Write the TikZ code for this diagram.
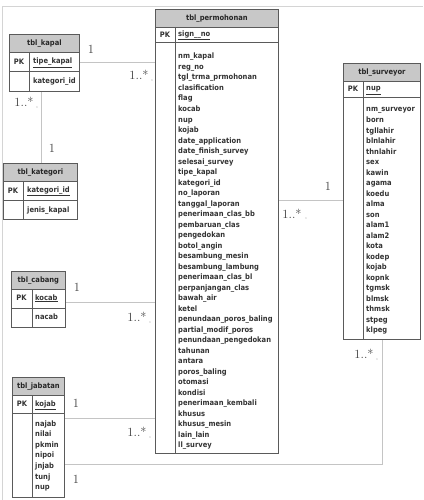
\documentclass[tikz,border=0pt]{standalone}
\usepackage{fontspec}
\setsansfont{DejaVu Sans}
\newfontfamily\fldfont{DejaVu Sans Condensed}
\begin{document}
\begin{tikzpicture}[x=1pt,y=-1pt,
  hdr/.style={draw=boxline,fill=hdrfill,line width=0.8pt,anchor=north west,inner sep=0pt,font=\fldfont\bfseries\fontsize{7.5}{8}\selectfont,text=black!85},
  cell/.style={draw=boxline,fill=white,line width=0.8pt,anchor=north west,inner sep=0pt},
  fld/.style={anchor=west,inner sep=0pt,text height=5.6pt,text depth=1.6pt,font=\fldfont\bfseries\fontsize{7.5}{8}\selectfont,text=black!80},
  pkl/.style={inner sep=0pt,font=\fldfont\bfseries\fontsize{7.5}{8}\selectfont,text=black!80},
  link/.style={draw=linkgray,line width=0.8pt},
  mult/.style={inner sep=0pt,font=\fontsize{12.5}{13}\selectfont,text=black!75},
  tiny/.style={inner sep=0pt,font=\sffamily\fontsize{3}{3}\selectfont,text=black!30}
]
\definecolor{boxline}{HTML}{5A5A5A}
\definecolor{hdrfill}{HTML}{C8C8C8}
\definecolor{linkgray}{HTML}{C4C4C4}
\definecolor{framegray}{HTML}{D4D4D4}
\useasboundingbox (0,0) rectangle (423,500);
\fill[white] (0,0) rectangle (423,500);
% frame
\coordinate (fTL) at (2,7);
\coordinate (fTR) at (423,7);
\coordinate (fBL) at (2,500);
\draw[framegray,line width=1pt] (fBL) -- (fTL) -- (fTR);

% ---------- connectors ----------
\coordinate (kapalE) at (79,62);
\coordinate (permW1) at (155,62);
\coordinate (kapalS) at (41,91);
\coordinate (kategN) at (41,163);
\coordinate (cabE) at (65,302);
\coordinate (permW2) at (155,302);
\coordinate (jabE1) at (64,418);
\coordinate (permW3) at (155,418);
\coordinate (permE) at (278,200);
\coordinate (survW) at (343,200);
\coordinate (survS) at (382,339);
\coordinate (bend) at (382,464);
\coordinate (jabE2) at (64,464);
\draw[link] (kapalE) -- (permW1);
\draw[link] (kapalS) -- (kategN);
\draw[link] (cabE) -- (permW2);
\draw[link] (jabE1) -- (permW3);
\draw[link] (permE) -- (survW);
\draw[link] (survS) -- (bend) -- (jabE2);

% ---------- tbl_kapal ----------
\node[hdr,minimum width=70pt,minimum height=18pt] (kapalH) at (9,34) {tbl\_kapal};
\node[cell,minimum width=70pt,minimum height=19pt] (kapalPK) at (9,52) {};
\node[cell,minimum width=70pt,minimum height=20pt] (kapalF) at (9,71) {};
\draw[boxline,line width=0.8pt] (29,52) -- (29,91);
\node[pkl] (kapalPKt) at (19,62) {PK};
\node[fld] (kapalK) at (33,62) {\underline{tipe\_kapal}};
\node[fld] (kapalF1) at (33,81.5) {kategori\_id};

% ---------- tbl_kategori ----------
\node[hdr,minimum width=74pt,minimum height=18pt] (katH) at (3,163) {tbl\_kategori};
\node[cell,minimum width=74pt,minimum height=19pt] (katPK) at (3,181) {};
\node[cell,minimum width=74pt,minimum height=19pt] (katF) at (3,200) {};
\draw[boxline,line width=0.8pt] (23,181) -- (23,219);
\node[pkl] (katPKt) at (13,190.5) {PK};
\node[fld] (katK) at (27,190.5) {\underline{kategori\_id}};
\node[fld] (katF1) at (27,210) {jenis\_kapal};

% ---------- tbl_cabang ----------
\node[hdr,minimum width=54pt,minimum height=18pt] (cabH) at (11,271) {tbl\_cabang};
\node[cell,minimum width=54pt,minimum height=19pt] (cabPK) at (11,289) {};
\node[cell,minimum width=54pt,minimum height=19pt] (cabF) at (11,308) {};
\draw[boxline,line width=0.8pt] (32,289) -- (32,327);
\node[pkl] (cabPKt) at (21.5,298) {PK};
\node[fld] (cabK) at (35,298) {\underline{kocab}};
\node[fld] (cabF1) at (35,317) {nacab};

% ---------- tbl_jabatan ----------
\node[hdr,minimum width=52pt,minimum height=18pt] (jabH) at (12,377) {tbl\_jabatan};
\node[cell,minimum width=52pt,minimum height=18pt] (jabPK) at (12,395) {};
\node[cell,minimum width=52pt,minimum height=84pt] (jabF) at (12,413) {};
\draw[boxline,line width=0.8pt] (32,395) -- (32,497);
\node[pkl] (jabPKt) at (22,404) {PK};
\node[fld] (jabK) at (35,404) {\underline{kojab}};
\foreach \t [count=\i from 0] in {najab,nilai,pkmin,nipoi,jnjab,tunj,nup}
  \node[fld] (jabF\i) at (35,{424+\i*10.65}) {\t};

% ---------- tbl_permohonan ----------
\node[hdr,minimum width=123pt,minimum height=18pt] (perH) at (155,9) {tbl\_permohonan};
\node[cell,minimum width=123pt,minimum height=15pt] (perPK) at (155,27) {};
\node[cell,minimum width=123pt,minimum height=411pt] (perF) at (155,42) {};
\draw[boxline,line width=0.8pt] (175,27) -- (175,453);
\node[pkl] (perPKt) at (165,34.5) {PK};
\node[fld] (perK) at (178,34.5) {\underline{sign\_\_no}};
\foreach \t [count=\i from 0] in {nm\_kapal,reg\_no,tgl\_trma\_prmohonan,clasification,flag,kocab,nup,kojab,date\_application,date\_finish\_survey,selesai\_survey,tipe\_kapal,kategori\_id,no\_laporan,tanggal\_laporan,penerimaan\_clas\_bb,pembaruan\_clas,pengedokan,botol\_angin,besambung\_mesin,besambung\_lambung,penerimaan\_clas\_bl,perpanjangan\_clas,bawah\_air,ketel,penundaan\_poros\_baling,partial\_modif\_poros,penundaan\_pengedokan,tahunan,antara,poros\_baling,otomasi,kondisi,penerimaan\_kembali,khusus,khusus\_mesin,lain\_lain,ll\_survey}
  \node[fld] (perF\i) at (178,{57+\i*10.5}) {\t};

% ---------- tbl_surveyor ----------
\node[hdr,minimum width=77pt,minimum height=18pt] (surH) at (343,63) {tbl\_surveyor};
\node[cell,minimum width=77pt,minimum height=16pt] (surPK) at (343,81) {};
\node[cell,minimum width=77pt,minimum height=242pt] (surF) at (343,97) {};
\draw[boxline,line width=0.8pt] (363,81) -- (363,339);
\node[pkl] (surPKt) at (353,89) {PK};
\node[fld] (surK) at (366,89) {\underline{nup}};
\foreach \t [count=\i from 0] in {nm\_surveyor,born,tgllahir,blnlahir,thnlahir,sex,kawin,agama,koedu,alma,son,alam1,alam2,kota,kodep,kojab,kopnk,tgmsk,blmsk,thmsk,stpeg,klpeg}
  \node[fld] (surF\i) at (366,{110+\i*10.5}) {\t};

% ---------- multiplicities ----------
\node[mult] (m1) at (91,49) {1};
\node[mult] (m2) at (139,75) {1..*};
\node[tiny] (t2) at (152,81) {n};
\node[mult] (m3) at (24,102) {1..*};
\node[tiny] (t3) at (37,108) {n};
\node[mult] (m4) at (52,148) {1};
\node[mult] (m5) at (77,287) {1};
\node[mult] (m6) at (137,317) {1..*};
\node[tiny] (t6) at (150,323) {n};
\node[mult] (m7) at (76,403) {1};
\node[mult] (m8) at (137,432) {1..*};
\node[tiny] (t8) at (150,438) {n};
\node[mult] (m9) at (76,479) {1};
\node[mult] (m10) at (328,186) {1};
\node[mult] (m11) at (292,214) {1..*};
\node[tiny] (t11) at (306,219) {n};
\node[mult] (m12) at (364,354) {1..*};
\node[tiny] (t12) at (377,360) {n};
\end{tikzpicture}
\end{document}
